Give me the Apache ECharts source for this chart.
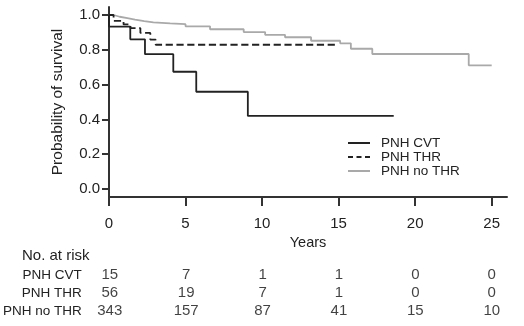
<!DOCTYPE html>
<html>
<head>
<meta charset="utf-8">
<script src="https://cdn.jsdelivr.net/npm/echarts@6/dist/echarts.min.js"></script>
<style>
  html, body { margin: 0; padding: 0; background: #fff; }
  #chart { width: 524px; height: 326px; }
</style>
</head>
<body>
<div id="chart"></div>
<script>
// Kaplan-Meier survival estimates (years, probability)
const cvtTimes = [0, 0, 1.39, 2.35, 4.2, 5.7, 9.07, 18.6];
const cvtSurv  = [1.0, 0.933, 0.86, 0.775, 0.674, 0.559, 0.42, 0.42];

const thrTimes = [0, 0.3, 0.95, 1.4, 2.05, 2.7, 3.05, 14.9];
const thrSurv  = [1.0, 0.966, 0.946, 0.925, 0.897, 0.858, 0.829, 0.829];

const noThrTimes = [0, 0.3, 0.7, 1.2, 1.7, 2.3, 2.9, 4.0, 5.0, 6.6, 8.8, 10.2, 11.5, 13.2, 15.1, 15.8, 17.2, 23.5, 25.0];
const noThrSurv  = [1.0, 0.99, 0.982, 0.973, 0.965, 0.958, 0.952, 0.947, 0.935, 0.918, 0.902, 0.886, 0.872, 0.852, 0.837, 0.806, 0.776, 0.711, 0.711];

// Number at risk table
const groupNames = ['PNH CVT', 'PNH THR', 'PNH no THR'];
const riskTimes = [0, 5, 10, 15, 20, 25];
const cvtAtRisk = [15, 7, 1, 1, 0, 0];
const thrAtRisk = [56, 19, 7, 1, 0, 0];
const noThrAtRisk = [343, 157, 87, 41, 15, 10];

const yTicks = [0, 0.2, 0.4, 0.6, 0.8, 1.0];
const xTicks = [0, 5, 10, 15, 20, 25];

const FONT = "'Liberation Sans', Arial, Helvetica, sans-serif";
const INK = '#222';
const GREY = '#a9a9a9';

// Legend swatches: a plain rule, and a rule broken into three dashes
const SOLID_ICON = 'path://M0,0H22V2H0Z';
const DASH_ICON = 'path://M0,0H5V2H0Z M8.5,0H13.5V2H8.5Z M17,0H22V2H17Z';

const pairs = (xs, ys) => xs.map((x, i) => [x, ys[i]]);

const curve = (name, xs, ys, color, type, z) => ({
  name: name,
  type: 'line',
  step: 'end',
  xAxisIndex: 0,
  yAxisIndex: 0,
  data: pairs(xs, ys),
  symbol: 'none',
  lineStyle: { color: color, width: 1.8, type: type },
  itemStyle: { color: color },
  z: z
});

const riskRow = (rowName, counts) => ({
  type: 'scatter',
  xAxisIndex: 1,
  yAxisIndex: 1,
  symbolSize: 1,
  itemStyle: { color: 'transparent' },
  data: riskTimes.map((t, i) => [t, rowName, counts[i]]),
  label: {
    show: true,
    position: 'inside',
    formatter: p => String(p.value[2]),
    color: '#111',
    fontFamily: FONT,
    fontSize: 15
  }
});

const chart = echarts.init(document.getElementById('chart'), null, { renderer: 'canvas' });

chart.setOption({
  animation: false,
  backgroundColor: '#fff',
  textStyle: { fontFamily: FONT },
  grid: [
    { left: 109, right: 17, top: 7, height: 190 },
    { left: 109, right: 17, top: 266, height: 54 }
  ],
  legend: {
    orient: 'vertical',
    left: 343,
    top: 131,
    itemWidth: 22,
    itemHeight: 2,
    itemGap: 0,
    textStyle: { fontFamily: FONT, fontSize: 13.5, color: INK, lineHeight: 11, height: 11, padding: [0, 0, 0, 6] },
    data: [
      { name: 'PNH CVT', icon: SOLID_ICON, itemStyle: { color: INK } },
      { name: 'PNH THR', icon: DASH_ICON, itemStyle: { color: INK } },
      { name: 'PNH no THR', icon: SOLID_ICON, itemStyle: { color: GREY } }
    ]
  },
  xAxis: [
    {
      gridIndex: 0,
      type: 'value',
      min: 0,
      max: 26,
      name: 'Years',
      nameLocation: 'middle',
      nameGap: 36,
      nameTextStyle: { fontFamily: FONT, fontSize: 14.5, color: INK },
      axisLine: { onZero: false, lineStyle: { color: '#333', width: 2 } },
      axisTick: { show: true, length: 9, lineStyle: { color: '#333', width: 2 }, customValues: xTicks },
      axisLabel: { margin: 19, fontFamily: FONT, fontSize: 15, color: INK, customValues: xTicks },
      splitLine: { show: false }
    },
    {
      gridIndex: 1,
      type: 'value',
      min: 0,
      max: 26,
      show: false
    }
  ],
  yAxis: [
    {
      gridIndex: 0,
      type: 'value',
      min: -0.046,
      max: 1.046,
      name: 'Probability of survival',
      nameLocation: 'middle',
      nameGap: 43,
      nameTextStyle: { fontFamily: FONT, fontSize: 15.5, color: INK },
      axisLine: { show: true, lineStyle: { color: '#333', width: 2 } },
      axisTick: { show: true, length: 7, lineStyle: { color: '#333', width: 2 }, customValues: yTicks },
      axisLabel: {
        margin: 9,
        fontFamily: FONT,
        fontSize: 15,
        color: INK,
        customValues: yTicks,
        formatter: v => Number(v).toFixed(1)
      },
      splitLine: { show: false }
    },
    {
      gridIndex: 1,
      type: 'category',
      inverse: true,
      data: groupNames,
      axisLine: { show: false },
      axisTick: { show: false },
      axisLabel: { interval: 0, margin: 28, fontFamily: FONT, fontSize: 13.5, color: INK, align: 'right' },
      splitLine: { show: false }
    }
  ],
  graphic: [
    {
      type: 'text',
      left: 22,
      top: 248,
      style: { text: 'No. at risk', fontFamily: FONT, fontSize: 15, fill: INK }
    }
  ],
  series: [
    curve('PNH CVT', cvtTimes, cvtSurv, INK, 'solid', 4),
    curve('PNH THR', thrTimes, thrSurv, INK, 'dashed', 3),
    curve('PNH no THR', noThrTimes, noThrSurv, GREY, 'solid', 2),
    riskRow(groupNames[0], cvtAtRisk),
    riskRow(groupNames[1], thrAtRisk),
    riskRow(groupNames[2], noThrAtRisk)
  ]
});
</script>
</body>
</html>
